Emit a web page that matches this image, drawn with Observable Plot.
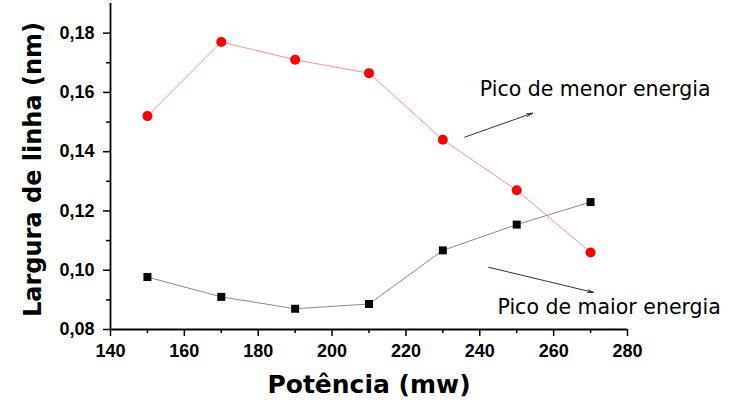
<!DOCTYPE html>
<html>
<head>
<meta charset="utf-8">
<script src="https://cdn.jsdelivr.net/npm/d3@7"></script>
<script src="https://cdn.jsdelivr.net/npm/@observablehq/plot@0.6"></script>
<style>
  html, body { margin: 0; padding: 0; background: #fff; }
  #chart svg { display: block; }
</style>
</head>
<body>
<div id="chart"></div>
<script>
// Potência (mW) vs. largura de linha (nm) for the two emission peaks
const potencia = [150, 170, 190, 210, 230, 250, 270];
const picoMenor = [0.152, 0.177, 0.171, 0.1665, 0.144, 0.127, 0.106];
const picoMaior = [0.0977, 0.091, 0.087, 0.0886, 0.1067, 0.1154, 0.123];

const xMajor = [140, 160, 180, 200, 220, 240, 260, 280];
const xMinor = [150, 170, 190, 210, 230, 250, 270];
const yMajor = [0.08, 0.10, 0.12, 0.14, 0.16, 0.18];
const yMinor = [0.09, 0.11, 0.13, 0.15, 0.17];

const labels = [
  {text: "Pico de menor energia", x: 240, y: 0.1588},
  {text: "Pico de maior energia", x: 244.8, y: 0.0851}
];
const arrows = [
  {x1: 235.9, y1: 0.1449, x2: 254.3, y2: 0.153},
  {x1: 242.4, y1: 0.101, x2: 270.8, y2: 0.0925}
];

const menor = potencia.map((p, i) => ({p, v: picoMenor[i]}));
const maior = potencia.map((p, i) => ({p, v: picoMaior[i]}));
const fmt = d => d3.format(".2f")(d).replace(".", ",");

const sans = "'Liberation Sans', Arial, sans-serif";
const wide = "'DejaVu Sans', 'Liberation Sans', sans-serif";

const chart = Plot.plot({
  width: 730,
  height: 405,
  marginLeft: 110,
  marginRight: 103,
  marginTop: 3,
  marginBottom: 76,
  style: {fontFamily: sans, background: "#fff", overflow: "visible"},
  x: {domain: [140, 280]},
  y: {domain: [0.08, 0.19]},
  marks: [
    // axis frame
    Plot.ruleX([140], {stroke: "#000", strokeWidth: 1.8}),
    Plot.ruleY([0.08], {stroke: "#000", strokeWidth: 1.8}),
    Plot.axisX(xMajor, {tickSize: 7, tickPadding: 8, tickFormat: d => d, fontSize: 18, fontWeight: "bold", stroke: "#000", strokeWidth: 1.5, label: null, color: "#000"}),
    Plot.axisX(xMinor, {tickSize: 4, text: null, stroke: "#000", strokeWidth: 1.5, label: null}),
    Plot.axisY(yMajor, {tickSize: 7, tickPadding: 9, tickFormat: fmt, fontSize: 18, fontWeight: "bold", stroke: "#000", strokeWidth: 1.5, label: null, color: "#000"}),
    Plot.axisY(yMinor, {tickSize: 4, text: null, stroke: "#000", strokeWidth: 1.5, label: null}),
    // axis titles
    Plot.text(["Potência (mw)"], {frameAnchor: "bottom", dy: 63, fontFamily: wide, fontSize: 25, fontWeight: "bold", fill: "#000"}),
    Plot.text(["Largura de linha (nm)"], {frameAnchor: "left", textAnchor: "middle", dx: -77, dy: 3, rotate: -90, fontFamily: wide, fontSize: 24, fontWeight: "bold", fill: "#000"}),
    // series
    Plot.line(menor, {x: "p", y: "v", stroke: "#ff8f8f", strokeWidth: 1}),
    Plot.line(maior, {x: "p", y: "v", stroke: "#8a8a8a", strokeWidth: 1}),
    Plot.dot(menor, {x: "p", y: "v", r: 5, fill: "#ff0000", stroke: "none"}),
    Plot.dot(maior, {x: "p", y: "v", symbol: "square", r: 4.5, fill: "#000", stroke: "none"}),
    // annotations
    Plot.arrow(arrows, {x1: "x1", y1: "y1", x2: "x2", y2: "y2", stroke: "#333", strokeWidth: 1, headLength: 9, headAngle: 28}),
    Plot.text(labels, {x: "x", y: "y", text: "text", textAnchor: "start", lineAnchor: "bottom", fontFamily: wide, fontSize: 20.5, fill: "#000"})
  ]
});

document.getElementById("chart").appendChild(chart);
</script>
</body>
</html>
